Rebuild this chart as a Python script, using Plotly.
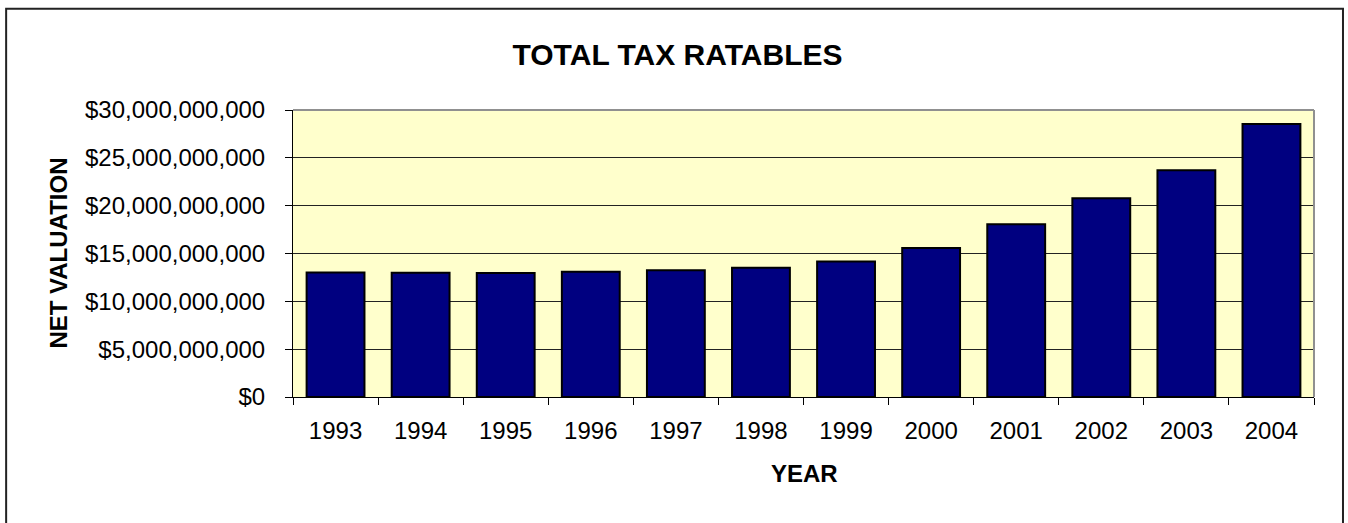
import plotly.graph_objects as go

years = ["1993", "1994", "1995", "1996", "1997", "1998", "1999", "2000", "2001", "2002", "2003", "2004"]
net_valuation = [13.02e9, 12.98e9, 12.95e9, 13.08e9, 13.26e9, 13.50e9, 14.17e9, 15.58e9, 18.05e9, 20.77e9, 23.70e9, 28.54e9]
y_ticks = [0, 5e9, 10e9, 15e9, 20e9, 25e9, 30e9]
y_tick_text = ["$0", "$5,000,000,000", "$10,000,000,000", "$15,000,000,000",
               "$20,000,000,000", "$25,000,000,000", "$30,000,000,000"]

W, H = 1348, 523
L, R, T, B = 292.5, 1314, 109.5, 397.5
FONT = "Liberation Sans, Arial, sans-serif"


def px_x(p):
    return (p - L) / (R - L)


def px_y(p):
    return (B - p) / (B - T)


fig = go.Figure()
fig.add_trace(go.Bar(
    x=years, y=net_valuation,
    marker=dict(color="#000080", line=dict(color="#000000", width=2)),
    hoverinfo="x+y",
))

fig.update_layout(
    width=W, height=H,
    margin=dict(l=L, r=W - R, t=T, b=H - B, pad=0),
    paper_bgcolor="white",
    plot_bgcolor="#FFFFCC",
    bargap=0.32,
    showlegend=False,
    font=dict(family=FONT, color="black", size=24),
    title=dict(text="<b>TOTAL TAX RATABLES</b>", x=677.5 / W, xanchor="center",
               y=1 - 54 / H, yanchor="middle", yref="container",
               font=dict(family=FONT, size=30, color="black")),
)

fig.update_xaxes(
    type="category",
    showline=True, linecolor="black", linewidth=1,
    ticks="outside", ticklen=7, tickcolor="black", tickwidth=1,
    tickson="boundaries",
    showgrid=False,
    tickfont=dict(family=FONT, size=24, color="black"),
    ticklabelstandoff=12,
)
fig.update_yaxes(
    range=[0, 30e9],
    tickvals=y_ticks, ticktext=y_tick_text,
    showline=True, linecolor="black", linewidth=1,
    ticks="outside", ticklen=7, tickcolor="black", tickwidth=1,
    showgrid=True, gridcolor="#222222", gridwidth=1,
    zeroline=False,
    tickfont=dict(family=FONT, size=24, color="black"),
    ticklabelstandoff=15,
)

# plot-area border (top/right gray)
fig.add_shape(type="line", xref="paper", yref="paper", x0=0, x1=1, y0=1, y1=1,
              line=dict(color="#909090", width=2), layer="above")
fig.add_shape(type="line", xref="paper", yref="paper", x0=1, x1=1, y0=0, y1=1,
              line=dict(color="#909090", width=2), layer="above")
# outer chart border
fig.add_shape(type="rect", xref="paper", yref="paper",
              x0=px_x(5.5), x1=px_x(1343), y0=px_y(540), y1=px_y(8),
              line=dict(color="#222222", width=2), fillcolor="rgba(0,0,0,0)", layer="above")

fig.add_annotation(text="<b>YEAR</b>", xref="paper", yref="paper",
                   x=px_x(804), y=px_y(474), xanchor="center", yanchor="middle",
                   showarrow=False, font=dict(family=FONT, size=24, color="black"))
fig.add_annotation(text="<b>NET VALUATION</b>", xref="paper", yref="paper",
                   x=px_x(57), y=px_y(253), xanchor="center", yanchor="middle",
                   textangle=-90,
                   showarrow=False, font=dict(family=FONT, size=24, color="black"))

fig.write_html("out.html", config={"displayModeBar": False},
               post_script="document.body.style.margin='0';")
